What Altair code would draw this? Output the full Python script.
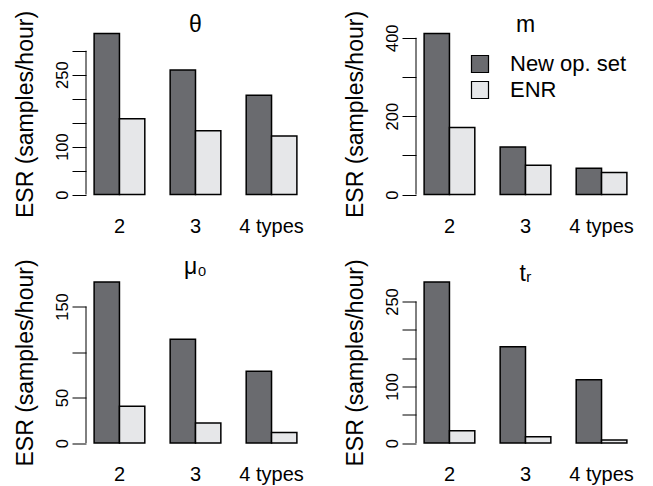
import altair as alt
import pandas as pd

groups = ["2", "3", "4 types"]
series = ["New op. set", "ENR"]
colors = ["#6a6b6f", "#e6e7e9"]

titles = ["θ", "m", "μ₀", "tᵣ"]

theta_new = [336, 260, 207]
theta_enr = [158, 133, 122]
m_new = [411, 121, 67]
m_enr = [171, 75, 56]
mu_new = [177, 114, 79]
mu_enr = [40.5, 22, 11.7]
tr_new = [284.5, 170, 112]
tr_enr = [21.7, 11, 5.3]

theta_ticks = [0, 50, 100, 150, 200, 250, 300]
theta_labels = [0, 100, 250]
m_ticks = [0, 100, 200, 300, 400]
m_labels = [0, 200, 400]
mu_ticks = [0, 50, 100, 150]
mu_labels = [0, 50, 150]
tr_ticks = [0, 50, 100, 150, 200, 250]
tr_labels = [0, 100, 250]

FONT = "Liberation Sans"
W, H = 219, 174
YTITLE = "ESR (samples/hour)"


def panel(title, new, enr, ticks, labels, legend=False, title_offset=-45):
    df = pd.DataFrame({
        "group": groups * 2,
        "series": [series[0]] * 3 + [series[1]] * 3,
        "value": new + enr,
    })
    top = max(new + enr)
    yscale = alt.Scale(domain=[-0.04 * top, 1.04 * top], nice=False, zero=False)
    lab = "[" + ",".join(str(v) for v in labels) + "]"
    yaxis = alt.Axis(
        values=ticks,
        labelExpr=f"indexof({lab}, datum.value) >= 0 ? datum.label : ''",
        labelAngle=270, labelAlign="center", labelBaseline="alphabetic",
        labelFontSize=16.5, labelPadding=5, labelFont=FONT, labelColor="black",
        labelOverlap=False, labelFlush=False,
        tickSize=14, tickColor="black", tickWidth=1,
        domain=False, grid=False,
        title=YTITLE, titleFontSize=23, titleFont=FONT,
        titleFontWeight="normal", titleColor="black", titlePadding=17,
    )
    if legend:
        leg = alt.Legend(
            title=None, orient="none", legendX=53, legendY=26,
            symbolType="square", symbolSize=289, symbolStrokeColor="black",
            symbolStrokeWidth=1.2, symbolOpacity=1,
            labelFontSize=22, labelFont=FONT, labelColor="black",
            labelOffset=19, rowPadding=4, padding=0,
        )
    else:
        leg = None
    bars = alt.Chart(df).mark_bar(stroke="black", strokeWidth=1.5, opacity=1).encode(
        x=alt.X("group:N", sort=groups,
                scale=alt.Scale(paddingInner=1 / 3, paddingOuter=0.1067),
                axis=alt.Axis(title=None, labelAngle=0, domain=False, ticks=False,
                              labelFontSize=20, labelFont=FONT, labelColor="black",
                              labelPadding=15)),
        xOffset=alt.XOffset("series:N", sort=series,
                            scale=alt.Scale(paddingInner=0, paddingOuter=0)),
        y=alt.Y("value:Q", scale=yscale, stack=None, axis=yaxis),
        y2=alt.datum(0),
        color=alt.Color("series:N", sort=series,
                        scale=alt.Scale(domain=series, range=colors), legend=leg),
    )
    rule_df = pd.DataFrame({"lo": [ticks[0]], "hi": [ticks[-1]]})
    rule = alt.Chart(rule_df).mark_rule(color="black", strokeWidth=1).encode(
        x=alt.value(0),
        y=alt.Y("lo:Q", scale=yscale, axis=yaxis),
        y2="hi:Q",
    )
    return alt.layer(bars, rule).properties(
        width=W, height=H,
        view=alt.ViewBackground(stroke="transparent", strokeWidth=0),
        title=alt.TitleParams(title, fontSize=23, font=FONT, fontWeight="normal",
                              color="black", anchor="middle", frame="group",
                              baseline="alphabetic", offset=title_offset),
    ).resolve_scale(color="independent")


p1 = panel(titles[0], theta_new, theta_enr, theta_ticks, theta_labels)
p2 = panel(titles[1], m_new, m_enr, m_ticks, m_labels, legend=True)
p3 = panel(titles[2], mu_new, mu_enr, mu_ticks, mu_labels, title_offset=-38)
p4 = panel(titles[3], tr_new, tr_enr, tr_ticks, tr_labels)

chart = alt.concat(p1, p2, p3, p4, columns=2, bounds="flush",
                   spacing={"row": 74.5, "column": 111}).resolve_scale(
    color="independent", y="independent", x="independent"
).resolve_legend(color="independent").properties(
    padding={"left": 5, "top": 2, "right": 0, "bottom": 0}
).configure_view(stroke="transparent", strokeWidth=0).configure(background="white")

chart.save("out.html", embed_options={"renderer": "svg", "actions": False})
